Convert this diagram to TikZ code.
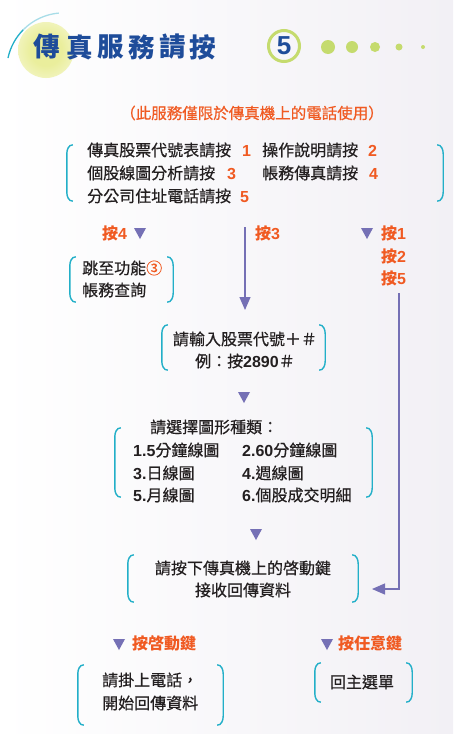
\documentclass[tikz,border=0pt]{standalone}
\usepackage{fontspec}
\setmainfont{Noto Sans CJK TC}
\newfontfamily\arial{Liberation Sans}
\usetikzlibrary{calc,arrows.meta}
\definecolor{titleblue}{HTML}{1E4C9A}
\definecolor{brteal}{HTML}{22AFC8}
\definecolor{brteallt}{HTML}{A8DDE8}
\definecolor{arrpurple}{HTML}{7570B5}
\definecolor{orng}{HTML}{F05A22}
\definecolor{dotgreen}{HTML}{C5DB6E}
\definecolor{glow}{HTML}{EAEE9C}
\definecolor{txt}{HTML}{231F20}
\definecolor{bgright}{HTML}{F2F0F5}
\pgfdeclareradialshading{glowshade}{\pgfpoint{0bp}{0bp}}{color(0bp)=(glow); color(14bp)=(glow); color(30bp)=(glow!55!white); color(50bp)=(white); color(100bp)=(white)}
\newcommand\onum[1]{{\color{orng}\arial\bfseries #1}}
\newcommand\bnum[1]{{\arial\bfseries #1}}
\newcommand\parenbox[1]{%
 \draw[brk] ([xshift=6pt]#1.north west) to[out=180,in=90] ([yshift=-9pt]#1.north west) -- ([yshift=9pt]#1.south west) to[out=-90,in=180] ([xshift=6pt]#1.south west);
 \draw[brk] ([xshift=-6pt]#1.north east) to[out=0,in=90] ([yshift=-9pt]#1.north east) -- ([yshift=9pt]#1.south east) to[out=-90,in=0] ([xshift=-6pt]#1.south east);}
\newcommand\dtri[1]{\fill[arrpurple] ($(#1)+(-6,-5)$) -- ($(#1)+(6,-5)$) -- ($(#1)+(0,6)$) -- cycle;}
\tikzset{
 brk/.style={draw=brteal, line width=1.4pt},
 frame/.style={inner sep=0pt, draw=none},
 body/.style={font=\fontsize{16}{22}\selectfont\addfontfeature{FakeBold=0.6}, text=txt, inner sep=0pt},
 olab/.style={font=\fontsize{16}{22}\selectfont\bfseries, text=orng, inner sep=0pt},
 ttl/.style={font=\fontsize{26.5}{30}\selectfont\bfseries, text=titleblue, inner sep=0pt},
 arr/.style={draw=arrpurple, line width=1.2pt, -{Triangle[width=11pt,length=13pt]}},
 gdot/.style={fill=dotgreen, draw=none}
}
\begin{document}
\begin{tikzpicture}[x=1pt,y=-1pt]
\useasboundingbox (0,0) rectangle (453,734);
\shade[left color=white, middle color=white, right color=bgright] (0,0) rectangle (453,734);
% title decoration
\shade[shading=glowshade] (46,50) circle (28pt);
\draw[brteal, line width=1.3pt] (8,58) arc[start angle=168, end angle=135, radius=57pt] coordinate (arcmid);
\draw[brteallt, line width=1.3pt] (arcmid) arc[start angle=135, end angle=95, radius=57pt];
\node[ttl] (t1) at (47,47) {傳};
\node[ttl] (t2) at (80,47) {真};
\node[ttl] (t3) at (111,47) {服};
\node[ttl] (t4) at (142,47) {務};
\node[ttl] (t5) at (173,47) {請};
\node[ttl] (t6) at (203,47) {按};
\node[circle, draw=dotgreen, line width=3pt, minimum size=31pt, inner sep=0pt, text=titleblue, font=\fontsize{26}{30}\selectfont\arial\bfseries] (five) at (284,46) {5};
\fill[gdot] (328,47) circle (7pt);
\fill[gdot] (352,47) circle (6pt);
\fill[gdot] (375,47) circle (5pt);
\fill[gdot] (399,47) circle (3.5pt);
\fill[gdot] (423,47) circle (2pt);
% subtitle
\node[body, text=orng, font=\fontsize{15.5}{20}\selectfont\addfontfeature{FakeBold=0.6}] (sub) at (252,113) {（此服務僅限於傳真機上的電話使用）};
% top menu
\node[frame, minimum width=376pt, minimum height=56pt] (menu) at (255,173) {};
\parenbox{menu}
\node[body, anchor=west] (m1) at (87,150) {傳真股票代號表請按\hspace{11pt}\onum{1}};
\node[body, anchor=west] (m2) at (262,150) {操作說明請按\hspace{10pt}\onum{2}};
\node[body, anchor=west] (m3) at (87,173) {個股線圖分析請按\hspace{12pt}\onum{3}};
\node[body, anchor=west] (m4) at (262,173) {帳務傳真請按\hspace{11pt}\onum{4}};
\node[body, anchor=west] (m5) at (87,196) {分公司住址電話請按\hspace{9pt}\onum{5}};
% branch labels
\node[olab, anchor=west] (p4) at (102,233) {按\arial 4};
\dtri{140,233}
\node[olab, anchor=west] (p3) at (255,233) {按\arial 3};
\dtri{367,233}
\node[olab, anchor=west] (p1) at (381,233) {按\arial 1};
\node[olab, anchor=west] (p2) at (381,256) {按\arial 2};
\node[olab, anchor=west] (p5) at (381,278) {按\arial 5};
% jump box
\node[frame, minimum width=103pt, minimum height=45pt] (jump) at (121.5,279.5) {};
\parenbox{jump}
\node[body, anchor=west] (j1) at (82,268) {跳至功能{\color{orng}③}};
\node[body, anchor=west] (j2) at (82,290) {帳務查詢};
% arrow 3
\coordinate (a3s) at (245,227);
\coordinate (a3e) at (245,310);
\draw[arr] (a3s) -- (a3e);
% code box
\node[frame, minimum width=163pt, minimum height=45pt] (code) at (243.5,347.5) {};
\parenbox{code}
\node[body] (c1) at (245,339) {請輸入股票代號＋＃};
\node[body] (c2) at (245,361) {例：按\bnum{2890}＃};
\dtri{244,397}
% chart box
\node[body, anchor=west] (ch0) at (150,427) {請選擇圖形種類：};
\node[frame, minimum width=257pt, minimum height=69pt] (chart) at (243.5,462.5) {};
\parenbox{chart}
\node[body, anchor=west] (ch1) at (133,450) {\bnum{1.5}分鐘線圖};
\node[body, anchor=west] (ch2) at (242,450) {\bnum{2.60}分鐘線圖};
\node[body, anchor=west] (ch3) at (133,473) {\bnum{3.}日線圖};
\node[body, anchor=west] (ch4) at (242,473) {\bnum{4.}週線圖};
\node[body, anchor=west] (ch5) at (133,495) {\bnum{5.}月線圖};
\node[body, anchor=west] (ch6) at (242,495) {\bnum{6.}個股成交明細};
\dtri{256,534}
% start box
\node[frame, minimum width=230pt, minimum height=47pt] (start) at (243,578.5) {};
\parenbox{start}
\node[body] (s1) at (243,568) {請按下傳真機上的啓動鍵};
\node[body] (s2) at (243,590) {接收回傳資料};
% right return arrow
\coordinate (r1) at (399,293);
\coordinate (r3) at (372,589);
\draw[arr] (r1) |- (r3);
% bottom labels
\dtri{119,644}
\node[olab, anchor=west] (k1) at (132,643) {按啓動鍵};
\dtri{327,644}
\node[olab, anchor=west] (k2) at (338,643) {按任意鍵};
% hang box
\node[frame, minimum width=145pt, minimum height=60pt] (hang) at (150.5,695) {};
\parenbox{hang}
\node[body, anchor=west] (h1) at (102,680) {請掛上電話，};
\node[body, anchor=west] (h2) at (102,703) {開始回傳資料};
% return box
\node[frame, minimum width=97pt, minimum height=39pt] (ret) at (363.5,682.5) {};
\parenbox{ret}
\node[body] (rt) at (362,682) {回主選單};
\end{tikzpicture}
\end{document}
